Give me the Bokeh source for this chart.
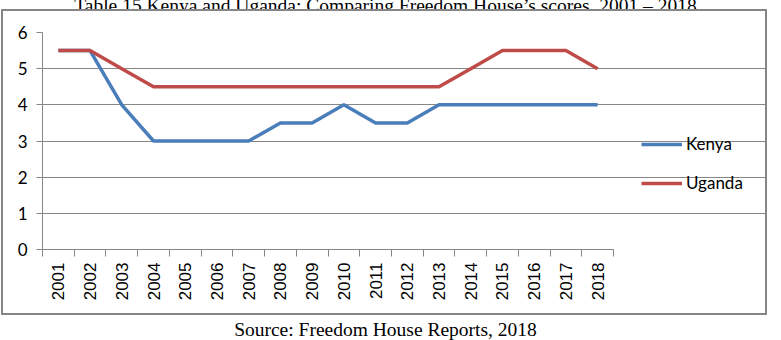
import math

from bokeh.plotting import figure
from bokeh.layouts import column
from bokeh.models import Range1d, FixedTicker, Legend, LegendItem, Div
from bokeh.embed import file_html
from bokeh.resources import INLINE

# Freedom House scores, 2001-2018
years = list(range(2001, 2019))
kenya = [5.5, 5.5, 4, 3, 3, 3, 3, 3.5, 3.5, 4, 3.5, 3.5, 4, 4, 4, 4, 4, 4]
uganda = [5.5, 5.5, 5, 4.5, 4.5, 4.5, 4.5, 4.5, 4.5, 4.5, 4.5, 4.5, 4.5, 5, 5.5, 5.5, 5.5, 5]
y_ticks = [0, 1, 2, 3, 4, 5, 6]

title_text = "Table 15.Kenya and Uganda: Comparing Freedom House\u2019s scores, 2001 \u2013 2018"
source_text = "Source: Freedom House Reports, 2018"

GRID = "#868686"
BLUE = "#4A7EBB"
RED = "#BE4B48"
SERIF = "'Liberation Serif', serif"

# canvas geometry (px): the category plot area, then room for the legend
W, H = 766, 306
LEFT, PLOT_RIGHT, TOP, BOTTOM = 39, 610, 21, 68
x0, x1 = years[0] - 0.5, years[-1] + 0.5
px_per_year = (PLOT_RIGHT - LEFT) / (x1 - x0)
x_end = x1 + (W - PLOT_RIGHT) / px_per_year

p = figure(width=W, height=H, output_backend="svg", toolbar_location=None,
           x_range=Range1d(x0, x_end), y_range=Range1d(0, 6),
           min_border_left=LEFT, min_border_right=0,
           min_border_top=TOP, min_border_bottom=BOTTOM)
p.outline_line_color = None
p.background_fill_color = "white"
p.border_fill_color = "white"
p.margin = (0, 0, 0, 1)
p.styles = {"border": f"2px solid {GRID}"}

# category-style x axis: labels at year centres, tick marks between years
xa = p.xaxis[0]
xa.bounds = (x0, x1)
xa.ticker = FixedTicker(ticks=years,
                        minor_ticks=[y - 0.5 for y in years] + [x1])
xa.major_tick_out = 0
xa.major_tick_in = 0
xa.minor_tick_out = 7
xa.minor_tick_in = 0
xa.minor_tick_line_color = GRID
xa.axis_line_color = GRID
xa.major_label_orientation = math.pi / 2
xa.major_label_standoff = 6
xa.major_label_text_font = "Liberation Sans"
xa.major_label_text_font_size = "17px"
xa.major_label_text_color = "black"

ya = p.yaxis[0]
ya.ticker = FixedTicker(ticks=y_ticks)
ya.minor_tick_line_color = None
ya.major_tick_out = 6
ya.major_tick_in = 0
ya.major_tick_line_color = GRID
ya.axis_line_color = GRID
ya.major_label_standoff = 9
ya.major_label_text_font = "Lato"
ya.major_label_text_font_size = "17px"
ya.major_label_text_color = "black"

p.xgrid.grid_line_color = None
p.ygrid.grid_line_color = GRID
p.ygrid.grid_line_width = 1
p.ygrid.bounds = (x0, x1)

r_k = p.line(years, kenya, line_color=BLUE, line_width=3.5)
r_u = p.line(years, uganda, line_color=RED, line_width=3.5)

legend = Legend(items=[LegendItem(label="Kenya", renderers=[r_k]),
                       LegendItem(label="Uganda", renderers=[r_u])],
                location=(599, 56), orientation="vertical",
                glyph_width=41, glyph_height=20, label_height=20,
                label_standoff=4, spacing=18, padding=0, margin=0,
                border_line_color=None, background_fill_alpha=0,
                label_text_font="Lato", label_text_font_size="17px",
                label_text_color="black")
p.add_layout(legend, "center")

title = Div(text=f'<div style="width:771px; margin-top:-22px; text-align:center; '
                 f'font-family:{SERIF}; font-size:19.5px; line-height:1.2; '
                 f'color:black; white-space:nowrap;">{title_text}</div>',
            width=771, height=9, margin=0,
            styles={"overflow": "hidden"})

source = Div(text=f'<div style="width:771px; text-align:center; font-family:{SERIF}; '
                  f'font-size:19.5px; line-height:1.1; color:black; '
                  f'white-space:nowrap;">{source_text}</div>',
             width=771, height=22, margin=(4, 0, 0, 0))

layout = column(title, p, source, spacing=0, margin=0)

open("out.html", "w").write(file_html(layout, INLINE))
